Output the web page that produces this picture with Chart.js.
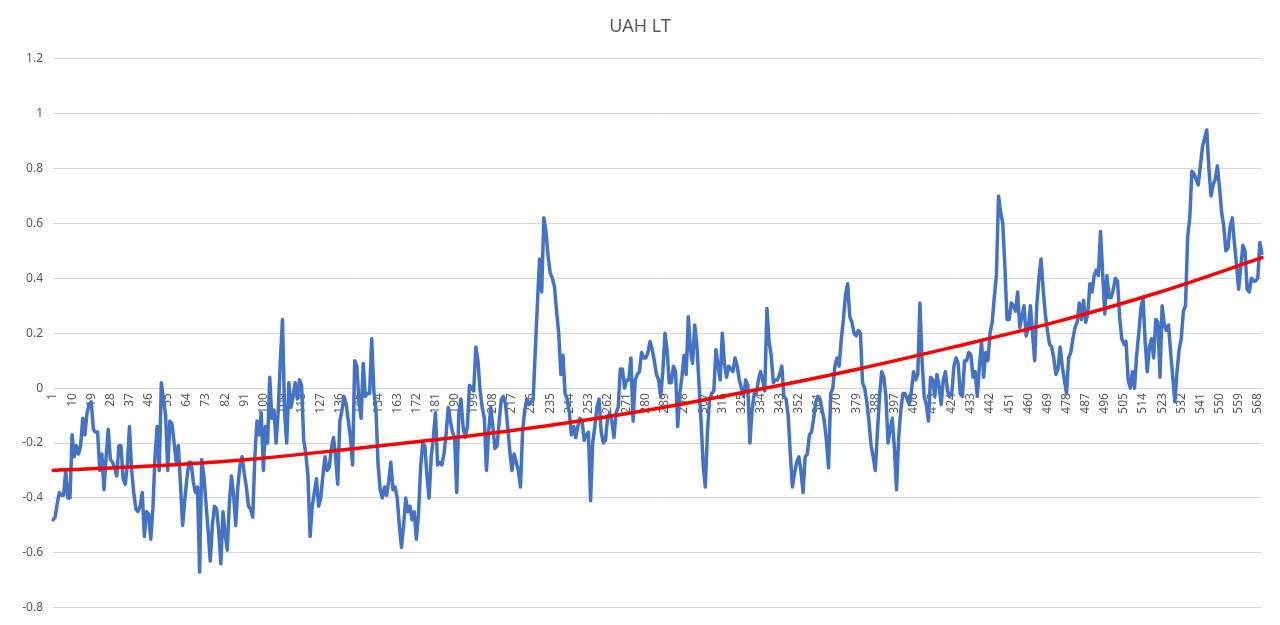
<!DOCTYPE html>
<html>
<head>
<meta charset="utf-8">
<title>UAH LT</title>
<script src="https://cdn.jsdelivr.net/npm/chart.js@4.4.0/dist/chart.umd.js"></script>
<style>
    html, body { margin: 0; padding: 0; background: #fff; }
    canvas { display: block; }
</style>
</head>
<body>
<canvas id="uah-chart" width="1280" height="625"></canvas>
<script>
// month index 1..570 (Jan 1979 onwards), category axis labels
const months = Array.from({ length: 570 }, (_, i) => i + 1);

// monthly lower-troposphere anomaly (°C)
const anomaly = [
    -0.48, -0.47, -0.42, -0.38, -0.39, -0.39, -0.30, -0.40, -0.40, -0.17, -0.25, -0.21, -0.24, -0.21, -0.11, -0.17, -0.09, -0.06, -0.05, -0.15,   // 1-20
    -0.16, -0.16, -0.30, -0.24, -0.37, -0.25, -0.15, -0.26, -0.27, -0.29, -0.32, -0.21, -0.21, -0.33, -0.35, -0.28, -0.14, -0.30, -0.38, -0.44,   // 21-40
    -0.45, -0.43, -0.38, -0.54, -0.45, -0.46, -0.55, -0.44, -0.25, -0.14, -0.30, 0.02, -0.04, -0.10, -0.30, -0.12, -0.13, -0.20, -0.27, -0.21,    // 41-60
    -0.35, -0.50, -0.41, -0.33, -0.27, -0.27, -0.34, -0.38, -0.36, -0.67, -0.26, -0.32, -0.42, -0.52, -0.63, -0.50, -0.43, -0.44, -0.52, -0.64,   // 61-80
    -0.45, -0.53, -0.59, -0.42, -0.32, -0.39, -0.50, -0.36, -0.28, -0.25, -0.31, -0.36, -0.43, -0.44, -0.47, -0.25, -0.12, -0.17, -0.09, -0.30,   // 81-100
    -0.14, -0.20, 0.04, -0.11, -0.08, -0.20, -0.08, 0.10, 0.25, -0.09, -0.20, 0.02, -0.07, -0.03, 0.02, -0.04, 0.03, 0.01, -0.19, -0.24,         // 101-120
    -0.32, -0.54, -0.43, -0.38, -0.33, -0.43, -0.40, -0.32, -0.25, -0.30, -0.29, -0.22, -0.18, -0.25, -0.35, -0.12, -0.08, -0.03, -0.06, -0.12,   // 121-140
    -0.18, -0.28, 0.10, 0.08, -0.05, -0.11, 0.09, -0.03, -0.02, -0.02, 0.18, -0.01, -0.08, -0.28, -0.37, -0.40, -0.36, -0.39, -0.34, -0.27,       // 141-160
    -0.37, -0.36, -0.40, -0.50, -0.58, -0.50, -0.40, -0.45, -0.43, -0.48, -0.45, -0.55, -0.46, -0.29, -0.20, -0.21, -0.32, -0.40, -0.25, -0.18,   // 161-180
    -0.09, -0.28, -0.27, -0.28, -0.24, -0.17, -0.07, -0.12, -0.16, -0.18, -0.38, -0.09, -0.04, -0.14, -0.18, -0.14, 0.01, 0.00, -0.01, 0.15,      // 181-200
    0.10, -0.01, -0.07, -0.11, -0.30, -0.16, -0.07, -0.14, -0.22, -0.21, -0.12, -0.04, -0.03, -0.06, -0.14, -0.23, -0.30, -0.24, -0.27, -0.30,     // 201-220
    -0.36, -0.16, -0.08, -0.04, -0.06, -0.05, -0.04, 0.14, 0.31, 0.47, 0.35, 0.62, 0.57, 0.48, 0.42, 0.40, 0.37, 0.28, 0.20, 0.05,               // 221-240
    0.12, -0.02, -0.04, -0.09, -0.17, -0.14, -0.18, -0.14, -0.11, -0.12, -0.19, -0.17, -0.16, -0.41, -0.20, -0.14, -0.07, -0.04, -0.16, -0.20,    // 241-260
    -0.19, -0.11, -0.09, -0.12, -0.18, -0.09, -0.07, 0.07, 0.07, 0.00, 0.03, 0.03, 0.11, -0.12, 0.03, 0.05, 0.06, 0.13, 0.11, 0.11,              // 261-280
    0.13, 0.17, 0.14, 0.10, 0.05, 0.03, -0.03, 0.06, 0.20, 0.14, 0.02, 0.02, 0.08, 0.06, -0.14, -0.02, 0.04, 0.12, 0.05, 0.26,                   // 281-300
    0.14, 0.09, 0.23, 0.16, 0.02, -0.12, -0.28, -0.36, -0.16, -0.04, -0.02, -0.01, 0.14, 0.08, 0.03, 0.20, 0.09, 0.04, 0.08, 0.07,               // 301-320
    0.06, 0.11, 0.08, 0.03, 0.00, -0.03, 0.03, 0.01, -0.20, -0.08, -0.02, -0.02, 0.03, 0.06, 0.03, -0.01, 0.29, 0.17, 0.12, 0.02,               // 321-340
    0.03, 0.03, 0.05, 0.08, -0.03, -0.04, -0.10, -0.24, -0.36, -0.31, -0.27, -0.25, -0.30, -0.38, -0.25, -0.24, -0.17, -0.16, -0.11, -0.05,      // 341-360
    -0.03, -0.04, -0.08, -0.12, -0.19, -0.29, -0.02, 0.00, 0.08, 0.11, 0.08, 0.18, 0.25, 0.34, 0.38, 0.26, 0.24, 0.20, 0.19, 0.21,              // 361-380
    0.20, 0.02, 0.00, -0.05, -0.12, -0.21, -0.25, -0.30, -0.16, -0.03, 0.06, 0.04, -0.03, -0.20, -0.15, -0.11, -0.22, -0.37, -0.18, -0.08,       // 381-400
    -0.02, -0.02, -0.04, -0.06, -0.01, 0.06, 0.03, 0.05, 0.31, 0.10, -0.03, -0.06, -0.12, 0.04, 0.03, -0.03, 0.05, 0.01, -0.06, 0.03,            // 401-420
    0.06, -0.01, -0.03, -0.02, 0.08, 0.11, 0.09, -0.02, -0.03, 0.10, 0.10, 0.13, 0.12, 0.04, 0.06, -0.03, 0.08, 0.17, 0.04, 0.13,               // 421-440
    0.10, 0.20, 0.24, 0.33, 0.41, 0.70, 0.64, 0.60, 0.44, 0.25, 0.25, 0.31, 0.30, 0.28, 0.35, 0.22, 0.26, 0.30, 0.19, 0.22,                     // 441-460
    0.30, 0.20, 0.10, 0.30, 0.40, 0.47, 0.36, 0.27, 0.21, 0.16, 0.15, 0.11, 0.05, 0.07, 0.15, 0.08, 0.03, -0.02, 0.11, 0.13,                    // 461-480
    0.18, 0.22, 0.24, 0.31, 0.25, 0.32, 0.24, 0.27, 0.38, 0.35, 0.41, 0.43, 0.41, 0.57, 0.42, 0.27, 0.41, 0.33, 0.33, 0.36,                     // 481-500
    0.40, 0.39, 0.26, 0.18, 0.16, 0.17, 0.03, 0.00, 0.06, 0.00, 0.12, 0.20, 0.29, 0.33, 0.17, 0.06, 0.15, 0.18, 0.11, 0.25,                     // 501-520
    0.24, 0.04, 0.30, 0.23, 0.21, 0.23, 0.13, 0.04, -0.05, 0.06, 0.14, 0.18, 0.28, 0.30, 0.55, 0.62, 0.79, 0.78, 0.76, 0.74,                    // 521-540
    0.81, 0.88, 0.91, 0.94, 0.80, 0.70, 0.74, 0.76, 0.81, 0.73, 0.64, 0.59, 0.50, 0.51, 0.59, 0.62, 0.53, 0.45, 0.36, 0.44,                     // 541-560
    0.52, 0.50, 0.36, 0.35, 0.40, 0.39, 0.39, 0.40, 0.53, 0.49                                                                                  // 561-570
];

// red trend curve, read at a few months across the chart
const trendMonths = [1, 47, 94, 141, 189, 236, 284, 331, 379, 426, 474, 522, 570];
const trendValues = [-0.300, -0.284, -0.259, -0.222, -0.181, -0.134, -0.076, -0.008, 0.068, 0.152, 0.243, 0.350, 0.475];

const yTicks = [-0.8, -0.6, -0.4, -0.2, 0, 0.2, 0.4, 0.6, 0.8, 1, 1.2];
const LABEL_EVERY = 9;

const FONT = '"Noto Sans", "Liberation Sans", sans-serif';
const GREY = '#595959';
const GRID = '#D9D9D9';

new Chart(document.getElementById('uah-chart'), {
    type: 'line',
    data: {
        labels: months,
        datasets: [
            { label: 'UAH LT', data: anomaly, borderColor: '#4472C4', borderWidth: 3.5, borderJoinStyle: 'round', borderCapStyle: 'round',
              pointRadius: 0, tension: 0, order: 1 },
            { label: 'Trend', data: trendMonths.map((m, i) => ({ x: m, y: trendValues[i] })),
              borderColor: '#FF0000', borderWidth: 3.5, borderCapStyle: 'round', pointRadius: 0, cubicInterpolationMode: 'monotone', order: 0 },
        ],
    },
    options: {
        responsive: false,
        animation: false,
        events: [],
        layout: { padding: { left: 0, right: 0, top: 0, bottom: 14 } },
        plugins: {
            legend: { display: false },
            tooltip: { enabled: false },
            title: { display: true, text: 'UAH LT', color: GREY, font: { family: FONT, size: 18, weight: 'normal' }, padding: { top: 16, bottom: 21 } },
        },
        scales: {
            x: {
                position: { y: 0 },
                grid: { display: false, drawTicks: false },
                border: { color: GRID, width: 1 },
                ticks: {
                    autoSkip: false, maxRotation: 90, minRotation: 90, padding: 5, color: GREY,
                    font: { family: FONT, size: 12 },
                    callback: (v, i) => (i % LABEL_EVERY === 0 ? String(months[i]) : null),
                },
            },
            y: {
                min: yTicks[0], max: yTicks[yTicks.length - 1],
                afterFit: (s) => { s.width = 53; },
                afterBuildTicks: (s) => { s.ticks = yTicks.map((v) => ({ value: v })); },
                grid: { color: GRID, drawTicks: false },
                border: { display: false },
                ticks: { padding: 10, color: GREY, font: { family: FONT, size: 12 }, callback: (v) => String(Math.round(v * 10) / 10) },
            },
            // empty right margin so the title stays centred on the full width
            yRight: {
                position: 'right', min: yTicks[0], max: yTicks[yTicks.length - 1],
                afterFit: (s) => { s.width = 18; },
                grid: { display: false, drawTicks: false }, border: { display: false },
                ticks: { display: false },
            },
        },
    },
});
</script>
</body>
</html>
